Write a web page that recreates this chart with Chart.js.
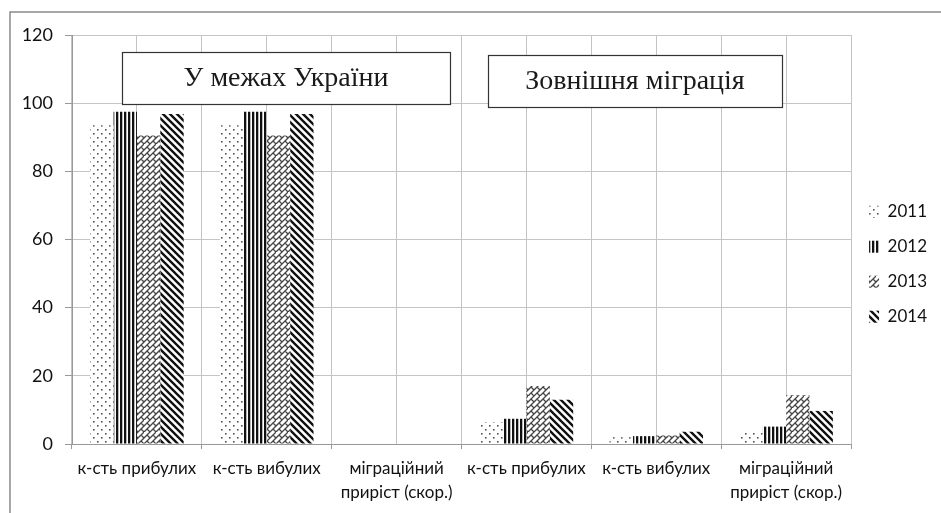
<!DOCTYPE html>
<html>
<head>
<meta charset="utf-8">
<script src="https://cdn.jsdelivr.net/npm/chart.js@4/dist/chart.umd.min.js"></script>
<style>
    body { margin: 0; background: #fff; }
    #wrap { width: 941px; height: 513px; position: relative; }
</style>
</head>
<body>
<div id="wrap"><canvas id="myChart" width="941" height="513"></canvas></div>
<script>
// categories + values
var categories = [
    'к-сть прибулих',
    'к-сть вибулих',
    ['міграційний', 'приріст (скор.)'],
    'к-сть прибулих',
    'к-сть вибулих',
    ['міграційний', 'приріст (скор.)']
];
var years = ['2011', '2012', '2013', '2014'];
var values2011 = [93.5, 93.5, 0, 6.4, 2.0, 3.3];
var values2012 = [97.5, 97.5, 0, 7.4, 2.3, 5.1];
var values2013 = [90.5, 90.5, 0, 17.0, 2.5, 14.3];
var values2014 = [96.8, 96.8, 0, 13.0, 3.6, 9.7];
var yMin = 0, yMax = 120, yStep = 20;
var boxTitles = ['У межах України', 'Зовнішня міграція'];

var fontSans = 'Lato, "Open Sans", sans-serif';

function makeTile(size, draw) {
    var c = document.createElement('canvas');
    c.width = size;
    c.height = size;
    var x = c.getContext('2d');
    x.fillStyle = '#fff';
    x.fillRect(0, 0, size, size);
    draw(x, size);
    return x.createPattern(c, 'repeat');
}

// 2011 - sparse dots
var dots = makeTile(8, function (x) {
    x.fillStyle = '#555';
    x.fillRect(1, 1, 1.6, 1.6);
    x.fillRect(5, 5, 1.6, 1.6);
});
// 2012 - vertical stripes
var vstripes = makeTile(4, function (x, s) {
    x.fillStyle = '#111';
    x.fillRect(0, 0, 2.3, s);
});
// 2013 - diagonal bricks
var bricks = makeTile(12, function (x, s) {
    x.strokeStyle = '#444';
    x.lineWidth = 1.3;
    x.beginPath();
    x.moveTo(-1, 13); x.lineTo(13, -1);
    x.moveTo(-1, 7); x.lineTo(7, -1);
    x.moveTo(5, 13); x.lineTo(13, 5);
    x.moveTo(3, 3); x.lineTo(6, 6);
    x.moveTo(9, 9); x.lineTo(12, 12);
    x.moveTo(0, 6); x.lineTo(-3, 3);
    x.moveTo(12, 6); x.lineTo(9, 3);
    x.moveTo(6, 12); x.lineTo(3, 9);
    x.stroke();
});
// 2014 - diagonal stripes "\"
var dstripes = makeTile(7, function (x, s) {
    x.strokeStyle = '#111';
    x.lineWidth = 2.4;
    x.beginPath();
    x.moveTo(-1, -1); x.lineTo(s + 1, s + 1);
    x.moveTo(-s - 1, -1); x.lineTo(1, s + 1);
    x.moveTo(s - 1, -1); x.lineTo(2 * s + 1, s + 1);
    x.stroke();
});

var framePlugin = {
    id: 'frameAndBoxes',
    beforeDatasetsDraw: function (chart) {
        var ctx = chart.ctx;
        var boxes = [
            {x: 122, y: 52, w: 328, h: 52},
            {x: 488, y: 55, w: 294, h: 52}
        ];
        ctx.save();
        for (var i = 0; i < boxes.length; i++) {
            var b = boxes[i];
            ctx.fillStyle = '#fff';
            ctx.fillRect(b.x, b.y, b.w, b.h);
            ctx.strokeStyle = '#333';
            ctx.lineWidth = 1.2;
            ctx.strokeRect(b.x + 0.5, b.y + 0.5, b.w, b.h);
            ctx.fillStyle = '#1a1a1a';
            ctx.font = '28px "Liberation Serif", serif';
            ctx.textAlign = 'center';
            ctx.textBaseline = 'middle';
            ctx.fillText(boxTitles[i], b.x + b.w / 2, b.y + b.h / 2 + 1);
        }
        ctx.restore();
    },
    afterDraw: function (chart) {
        var ctx = chart.ctx;
        ctx.save();
        ctx.strokeStyle = '#8a8a8a';
        ctx.lineWidth = 1.5;
        ctx.beginPath();
        ctx.moveTo(10, 520);
        ctx.lineTo(10, 12);
        ctx.lineTo(941, 12);
        ctx.stroke();
        ctx.restore();
    }
};

var ctx = document.getElementById('myChart');
var myChart = new Chart(ctx, {
    type: 'bar',
    data: {
        labels: categories,
        datasets: [
            {label: years[0], data: values2011, backgroundColor: dots, borderWidth: 0},
            {label: years[1], data: values2012, backgroundColor: vstripes, borderWidth: 0},
            {label: years[2], data: values2013, backgroundColor: bricks, borderWidth: 0},
            {label: years[3], data: values2014, backgroundColor: dstripes, borderWidth: 0}
        ]
    },
    options: {
        responsive: false,
        animation: false,
        layout: {padding: {left: 10, top: 35, right: 4, bottom: 0}},
        datasets: {bar: {categoryPercentage: 0.72, barPercentage: 1}},
        plugins: {
            tooltip: {enabled: false},
            legend: {
                position: 'right',
                align: 'start',
                title: {display: true, text: ' ', font: {size: 1}, padding: {top: 0, bottom: 149}},
                labels: {
                    boxWidth: 10,
                    boxHeight: 12,
                    padding: 18,
                    color: '#111',
                    font: {family: fontSans, size: 17}
                }
            }
        },
        scales: {
            x: {
                grid: {offset: true, color: '#c4c4c4', tickLength: 5, tickColor: '#999'},
                border: {color: '#999'},
                ticks: {
                    color: '#111',
                    maxRotation: 0,
                    autoSkip: false,
                    padding: 8,
                    font: {family: fontSans, size: 17, lineHeight: 1.4}
                },
                afterFit: function (scale) { scale.height = 69; }
            },
            x2: {
                position: 'bottom',
                offset: true,
                grid: {offset: false, color: '#c4c4c4', drawTicks: false},
                border: {display: false},
                ticks: {display: false},
                afterFit: function (scale) { scale.height = 0; }
            },
            y: {
                min: yMin,
                max: yMax,
                grid: {color: '#c4c4c4', tickLength: 7, tickColor: '#999'},
                border: {color: '#999'},
                ticks: {
                    stepSize: yStep,
                    color: '#111',
                    padding: 12,
                    font: {family: fontSans, size: 18}
                },
                afterFit: function (scale) { scale.width = 62; }
            }
        }
    },
    plugins: [framePlugin]
});
</script>
</body>
</html>
